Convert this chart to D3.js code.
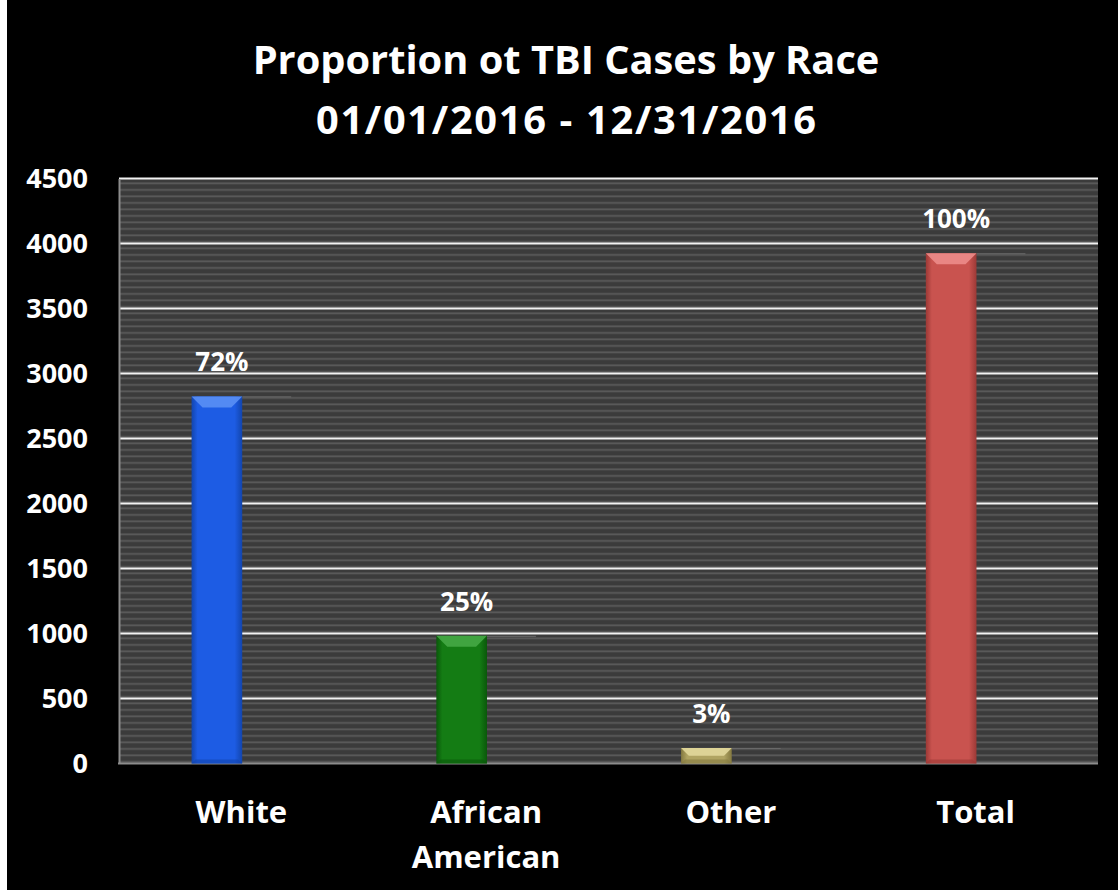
<!DOCTYPE html>
<html>
<head>
<meta charset="utf-8">
<script src="https://cdn.jsdelivr.net/npm/d3@7"></script>
<style>
  html, body { margin: 0; padding: 0; background: #000; }
  svg { display: block; }
  text { font-family: "Open Sans", Lato, "Liberation Sans", sans-serif; font-weight: 700; fill: #fff; }
</style>
</head>
<body>
<svg id="chart" width="1118" height="890"></svg>
<script>
const titleLines = ["Proportion ot TBI Cases by Race", "01/01/2016 - 12/31/2016"];
const categories = ["White", "African American", "Other", "Total"];
const categoryLines = [["White"], ["African", "American"], ["Other"], ["Total"]];
const values = [2824, 982, 119, 3925];
const percentLabels = ["72%", "25%", "3%", "100%"];
const yTicks = [0, 500, 1000, 1500, 2000, 2500, 3000, 3500, 4000, 4500];
const baseColors = ["#1d5ce4", "#147c14", "#b0a462", "#c9534f"];
const lightColors = ["#5a8ff4", "#45a845", "#e2d89c", "#ec8c89"];
const darkColors = ["#1245ad", "#0a580a", "#847940", "#9c3936"];

const W = 1118, H = 890;
const m = { left: 119, right: 1098, top: 178.5, bottom: 763.5 };
const FONT = "'Open Sans', Lato, sans-serif";

const svg = d3.select("#chart");
const defs = svg.append("defs");

svg.append("rect").attr("x", 0).attr("y", 0).attr("width", W).attr("height", H).attr("fill", "#000");
svg.append("rect").attr("x", 0).attr("y", 0).attr("width", 7).attr("height", H).attr("fill", "#fff");

// striped plot background
const pat = defs.append("pattern").attr("id", "stripes").attr("patternUnits", "userSpaceOnUse")
  .attr("width", 10).attr("height", 6.5).attr("y", m.top);
pat.append("rect").attr("width", 10).attr("height", 6.5).attr("fill", "#3b3b3b");
pat.append("rect").attr("y", 4).attr("width", 10).attr("height", 1.8).attr("fill", "#5a5a5a");

const x = d3.scaleBand().domain(categories).range([m.left, m.right]).padding(0);
const y = d3.scaleLinear().domain([0, 4500]).range([m.bottom, m.top]);

svg.append("rect").attr("x", m.left).attr("y", m.top)
  .attr("width", m.right - m.left).attr("height", m.bottom - m.top).attr("fill", "url(#stripes)");

// gridlines
svg.append("g").selectAll("line").data(yTicks.filter(d => d > 0)).join("line")
  .attr("x1", m.left).attr("x2", m.right)
  .attr("y1", d => y(d)).attr("y2", d => y(d))
  .attr("stroke", "#f2f2f2").attr("stroke-width", 2);

// y axis
const yAxis = svg.append("g").attr("transform", `translate(${m.left},0)`)
  .call(d3.axisLeft(y).tickValues(yTicks).tickSize(0).tickPadding(31).tickFormat(d3.format("d")));
yAxis.select(".domain").attr("stroke", "#8c8c8c").attr("stroke-width", 2);
yAxis.selectAll("text").attr("font-size", 27).attr("fill", "#fff")
  .style("font-family", FONT).style("font-weight", 700);

// x axis line
svg.append("line").attr("x1", m.left - 1).attr("x2", m.right)
  .attr("y1", m.bottom).attr("y2", m.bottom).attr("stroke", "#8c8c8c").attr("stroke-width", 2);

// gradients
categories.forEach((c, i) => {
  const g = defs.append("linearGradient").attr("id", "grad" + i).attr("x1", 0).attr("x2", 1).attr("y1", 0).attr("y2", 0);
  g.append("stop").attr("offset", 0).attr("stop-color", darkColors[i]);
  g.append("stop").attr("offset", 0.12).attr("stop-color", baseColors[i]);
  g.append("stop").attr("offset", 0.85).attr("stop-color", baseColors[i]);
  g.append("stop").attr("offset", 1).attr("stop-color", darkColors[i]);
});

const band = x.bandwidth();
const barW = band * 0.207;
const depth = band * 0.2;
const bev = 11;

const bars = svg.append("g").selectAll("g").data(values).join("g");
bars.each(function (v, i) {
  const g = d3.select(this);
  const cx = x(categories[i]) + band / 2;
  const x0 = cx - (barW + depth) / 2;
  const x1 = x0 + barW;
  const top = y(v), bot = y(0);
  g.append("line").attr("x1", x1).attr("x2", x1 + depth).attr("y1", top + 0.5).attr("y2", top + 0.5)
    .attr("stroke", "#6a6a6a").attr("stroke-width", 1);
  g.append("rect").attr("x", x0).attr("y", top).attr("width", barW).attr("height", bot - top)
    .attr("fill", `url(#grad${i})`);
  const bh = Math.min(bev, (bot - top) / 2);
  g.append("path")
    .attr("d", `M${x0},${top}L${x1},${top}L${x1 - bh},${top + bh}L${x0 + bh},${top + bh}Z`)
    .attr("fill", lightColors[i]).attr("opacity", 0.9);
  g.append("path")
    .attr("d", `M${x0},${bot}L${x1},${bot}L${x1 - 4},${bot - 4}L${x0 + 4},${bot - 4}Z`)
    .attr("fill", darkColors[i]).attr("opacity", 0.6);
  g.append("text").attr("x", x0 + barW / 2 + 5).attr("y", top - 25)
    .attr("text-anchor", "middle").attr("font-size", 26).text(percentLabels[i]);
});

// category labels
svg.append("g").selectAll("text").data(categories).join("text")
  .attr("text-anchor", "middle").attr("font-size", 31)
  .attr("x", d => x(d) + band / 2)
  .attr("y", 823)
  .each(function (d, i) {
    const t = d3.select(this);
    categoryLines[i].forEach((line, k) => {
      t.append("tspan").attr("x", x(d) + band / 2).attr("y", 823 + k * 45).text(line);
    });
  });

// title
const title = svg.append("g");
const t1 = title.append("text").attr("x", 566).attr("y", 74).attr("text-anchor", "middle")
  .attr("font-size", 50).text(titleLines[0]);
const w1 = t1.node().getComputedTextLength();
const fs = 50 * 627 / w1;
t1.attr("font-size", fs);
const t2 = title.append("text").attr("x", 566).attr("y", 134).attr("text-anchor", "middle")
  .attr("font-size", fs).text(titleLines[1]);
const w2 = t2.node().getComputedTextLength();
t2.attr("textLength", Math.max(w2, 500)).attr("lengthAdjust", "spacing");
</script>
</body>
</html>
